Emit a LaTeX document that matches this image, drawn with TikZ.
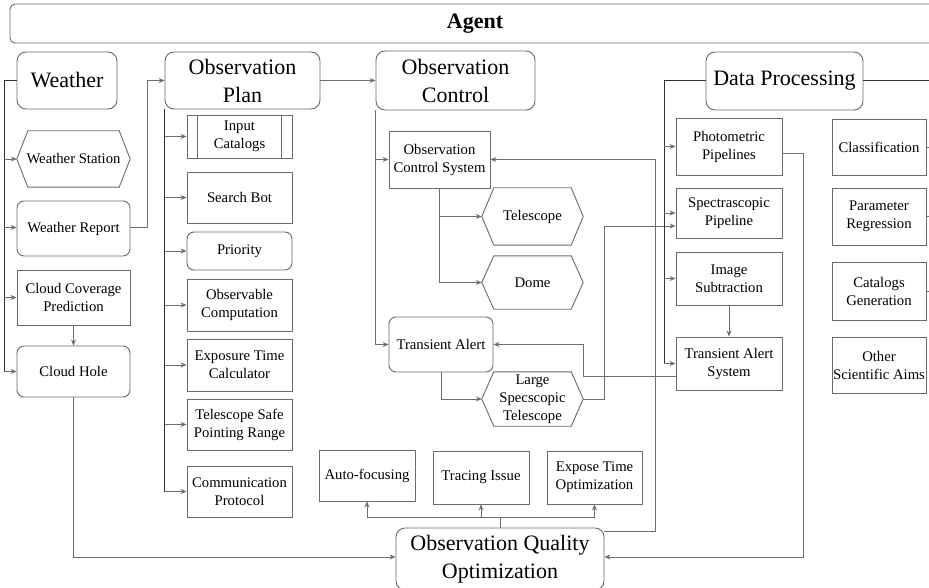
\documentclass[tikz,border=0pt]{standalone}
\usepackage{fontspec}
\setmainfont{Liberation Serif}
\usetikzlibrary{arrows.meta,calc}
\newcommand\smf{\fontsize{14.7}{18}\selectfont}
\newcommand\lgf{\fontsize{22}{28}\selectfont}
\definecolor{bdr}{HTML}{6A6A6A}
\definecolor{lnc}{HTML}{6E6E6E}
\definecolor{dkc}{HTML}{333333}
\newcommand\hexdraw[2][12]{\draw[hxb] (#2.west) -- ([xshift=#1pt]#2.north west) -- ([xshift=-#1pt]#2.north east) -- (#2.east) -- ([xshift=-#1pt]#2.south east) -- ([xshift=#1pt]#2.south west) -- cycle;}
\tikzset{
  sz/.style 2 args={minimum width=#1pt, minimum height=#2pt},
  bx/.style={draw=bdr, line width=0.9pt, fill=white, align=center, inner sep=0pt, font=\smf, text=black},
  rbx/.style={bx, rounded corners=7pt},
  big/.style={rbx, font=\lgf, rounded corners=9pt},
  hx/.style={align=center, inner sep=0pt, font=\smf},
  hxb/.style={draw=bdr, line width=0.9pt},
  ln/.style={draw=lnc, line width=0.9pt},
  dk/.style={draw=dkc, line width=1pt},
  tip/.style={-{Stealth[length=6pt,width=5pt]}},
  arr/.style={ln, tip},
}
\begin{document}
\begin{tikzpicture}[x=1pt,y=-1pt]
\useasboundingbox (0,0) rectangle (929,588);
\fill[white] (0,0) rectangle (929,588);

% Agent bar
\node[draw=bdr, line width=0.9pt, rounded corners=5pt, sz={930}{39}, font=\fontsize{22}{26}\selectfont\bfseries, inner sep=0pt] (agent) at (475,23.5) {\raisebox{-2.5pt}{Agent}};

% Weather column
\node[big, sz={100}{57}] (w) at (67,80.5) {Weather};
\node[hx, sz={113}{56}] (ws) at (73.5,159) {Weather Station};
\hexdraw[11]{ws}
\node[rbx, sz={113}{55}] (wr) at (73.5,228.5) {Weather Report};
\node[bx, sz={113}{55}] (cc) at (73.5,297.5) {Cloud Coverage\\Prediction};
\node[rbx, sz={113}{51}] (ch) at (73.5,371.5) {Cloud Hole};

% Observation plan column
\node[big, sz={155}{57}] (op) at (242.5,80.5) {Observation\\Plan};
\node[bx, sz={105}{43}] (ic) at (239.5,136.5) {Input\\Catalogs};
\draw[hxb] ([xshift=11pt]ic.north west) -- ([xshift=11pt]ic.south west);
\draw[hxb] ([xshift=-11pt]ic.north east) -- ([xshift=-11pt]ic.south east);
\node[bx, sz={105}{51}] (sb) at (239.5,197.5) {Search Bot};
\node[rbx, sz={105}{38}] (pr) at (239.5,251) {Priority};
\node[bx, sz={105}{52}] (oc) at (239.5,305) {Observable\\Computation};
\node[bx, sz={105}{52}] (et) at (239.5,365) {Exposure Time\\Calculator};
\node[bx, sz={105}{51}] (ts) at (239.5,424.5) {Telescope Safe\\Pointing Range};
\node[bx, sz={105}{51}] (cp) at (239.5,491.5) {Communication\\Protocol};

% Observation control column
\node[big, sz={159}{59}] (oco) at (455.5,80.5) {Observation\\Control};
\node[bx, sz={101}{57}] (ocs) at (439.5,159.5) {Observation\\Control System};
\node[hx, sz={101}{57}] (tel) at (532.5,216.5) {Telescope};
\hexdraw{tel}
\node[hx, sz={101}{53}] (dome) at (532.5,282.5) {Dome};
\hexdraw{dome}
\node[rbx, sz={104}{55}] (ta) at (441,344.5) {Transient Alert};
\node[hx, sz={101}{54}] (lst) at (532.5,399) {Large\\Specscopic\\Telescope};
\hexdraw{lst}

% Data processing
\node[big, sz={157}{58}] (dp) at (784.5,81) {Data Processing};
\node[bx, sz={106}{57}] (pp) at (729,146.5) {Photometric\\Pipelines};
\node[bx, sz={106}{50}] (sp) at (729,213) {Spectrascopic\\Pipeline};
\node[bx, sz={106}{53}] (is) at (729,278.5) {Image\\Subtraction};
\node[bx, sz={106}{53}] (tas) at (729,363.5) {Transient Alert\\System};
\node[bx, sz={94}{56}] (cl) at (879,147) {Classification};
\node[bx, sz={94}{57}] (prg) at (879,216.5) {Parameter\\Regression};
\node[bx, sz={94}{58}] (cg) at (879,291) {Catalogs\\Generation};
\node[bx, sz={94}{56}] (osa) at (879,365) {Other\\Scientific Aims};

% Quality optimization
\node[bx, sz={96}{51}] (af) at (367,475.5) {Auto-focusing};
\node[bx, sz={96}{53}] (ti) at (481,477.5) {Tracing Issue};
\node[bx, sz={95}{53}] (eto) at (594.5,477.5) {Expose Time\\Optimization};
\node[big, sz={208}{62}] (oqo) at (500,559) {Observation Quality\\Optimization};

% ---- connectors ----
% Weather
\coordinate (wt) at (4,80.5);
\draw[dk] (w.west) -- (wt) -- (wt |- ch.west);
\draw[ln, tip] (wt |- ws.west) -- (ws.west);
\draw[ln, tip] ([yshift=1pt]wt |- wr.west) -- ([yshift=1pt]wr.west);
\draw[ln, tip] (wt |- cc.west) -- (cc.west);
\draw[ln, tip] (wt |- ch.west) -- (ch.west);
\draw[arr] (cc.south) -- (ch.north);
\draw[arr] (ch.south) |- ([yshift=2pt]oqo.west);
\draw[arr] ([yshift=1pt]wr.east) -- ++(17,0) |- (op.west);

% Observation plan
\coordinate (opt) at (op.south west);
\draw[dk] (opt) -- (opt |- cp.west);
\foreach \n in {ic,sb,pr,oc,et,ts,cp}{\draw[ln, tip] (opt |- \n.west) -- (\n.west);}
\draw[arr] (op.east) -- (oco.west);

% Observation control
\coordinate (oct) at (oco.south west);
\draw[ln] (oct) -- (oct |- ta.west);
\draw[ln, tip] (oct |- ocs.west) -- (ocs.west);
\draw[ln, tip] (oct |- ta.west) -- (ta.west);
\coordinate (ocst) at (ocs.south);
\draw[ln] (ocst) -- (ocst |- dome.west);
\draw[ln, tip] (ocst |- tel.west) -- (tel.west);
\draw[ln, tip] (ocst |- dome.west) -- (dome.west);
\draw[arr] (ta.south) |- (lst.west);
\draw[arr] (lst.east) -- ++(21,0) |- ([yshift=-13pt]sp.west);
\draw[arr] ([yshift=-12.5pt]tas.west) -- ++(-92,0) |- (ta.east);

% Data processing
\coordinate (dpt) at (664,81);
\draw[dk] (dp.west) -- (dpt) -- (dpt |- tas.west);
\foreach \n in {pp,sp,is,tas}{\draw[ln, tip] (dpt |- \n.west) -- (\n.west);}
\draw[arr] (is.south) -- (tas.north);
\draw[dk] (dp.east) -- ++(90,0);
\foreach \n in {cl,prg,cg}{\draw[ln] (\n.east) -- ++(8,0);}
\draw[arr] ([yshift=-6.5pt]pp.east) -- ++(21,0) |- ([yshift=2pt]oqo.east);

% Quality optimization
\draw[arr] ([yshift=-4pt]oqo.north east) -- ++(51,0) |- (ocs.east);
\coordinate (qj) at (500,517);
\draw[ln] (oqo.north) -- (qj);
\draw[arr] (qj) -| (af.south);
\draw[arr] (qj) -| (ti.south);
\draw[arr] (qj) -| (eto.south);
\end{tikzpicture}
\end{document}
